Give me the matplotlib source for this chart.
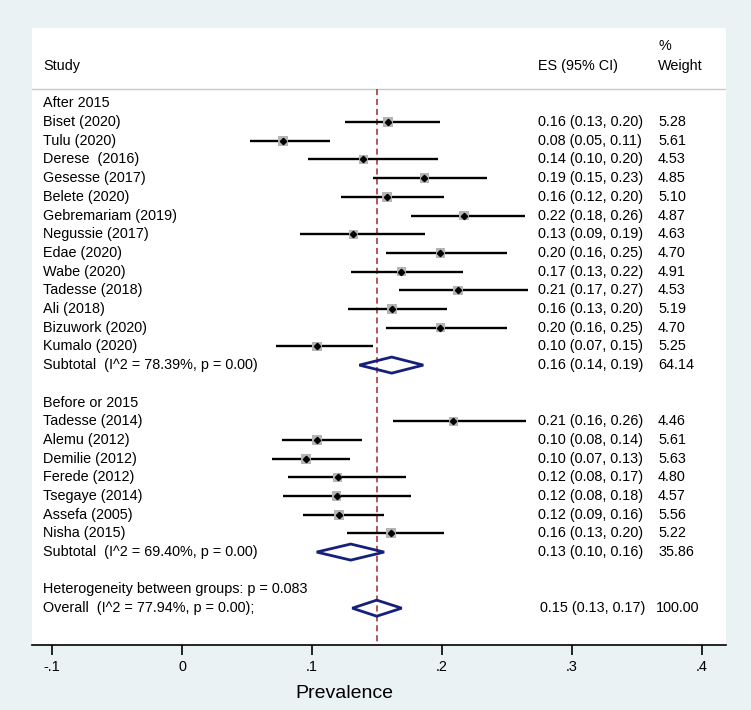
import matplotlib.pyplot as plt
from matplotlib.patches import Polygon

# ---- dados ----
studies_after = ["Biset (2020)", "Tulu (2020)", "Derese  (2016)", "Gesesse (2017)",
                 "Belete (2020)", "Gebremariam (2019)", "Negussie (2017)", "Edae (2020)",
                 "Wabe (2020)", "Tadesse (2018)", "Ali (2018)", "Bizuwork (2020)",
                 "Kumalo (2020)"]
es_after = [0.1587, 0.0774, 0.1395, 0.1864, 0.1577, 0.2169, 0.1318, 0.1987,
            0.1687, 0.2123, 0.1618, 0.1987, 0.1038]
lo_after = [0.1256, 0.0523, 0.0972, 0.1467, 0.1221, 0.1764, 0.0908, 0.1569,
            0.1303, 0.1669, 0.1274, 0.1569, 0.0723]
hi_after = [0.1987, 0.1138, 0.1969, 0.2344, 0.2013, 0.2638, 0.1867, 0.2497,
            0.2159, 0.2659, 0.2036, 0.2497, 0.1467]
w_after = [5.28, 5.61, 4.53, 4.85, 5.10, 4.87, 4.63, 4.70, 4.91, 4.53, 5.19, 4.70, 5.25]

studies_before = ["Tadesse (2014)", "Alemu (2012)", "Demilie (2012)", "Ferede (2012)",
                  "Tsegaye (2014)", "Assefa (2005)", "Nisha (2015)"]
es_before = [0.2087, 0.1038, 0.0954, 0.1197, 0.1190, 0.1205, 0.1608]
lo_before = [0.1626, 0.0772, 0.0692, 0.0818, 0.0779, 0.0928, 0.1267]
hi_before = [0.2644, 0.1382, 0.1295, 0.1721, 0.1764, 0.1554, 0.2015]
w_before = [4.46, 5.61, 5.63, 4.80, 4.57, 5.56, 5.22]

group_names = ["After 2015", "Before or 2015"]
sub_es = [0.1613, 0.1298]
sub_lo = [0.1364, 0.1036]
sub_hi = [0.1856, 0.1555]
sub_w = [64.14, 35.86]
sub_i2 = [78.39, 69.40]
sub_p = [0.00, 0.00]

overall_es, overall_lo, overall_hi = 0.1498, 0.1310, 0.1690
overall_w = 100.00
overall_i2, overall_p = 77.94, 0.00
het_p = 0.083

xticks = [-0.1, 0, 0.1, 0.2, 0.3, 0.4]
xtick_labels = ["-.1", "0", ".1", ".2", ".3", ".4"]

# ---- estilo ----
BG = "#EAF2F3"
NAVY = "#15207A"
RED = "#A0282D"
GRAY = "#B4B4B4"
FS = 10.4
plt.rcParams["font.family"] = ["Liberation Sans", "DejaVu Sans"]

fig = plt.figure(figsize=(7.51, 7.10), dpi=100, facecolor=BG)
ax = fig.add_axes([32 / 751, 65 / 710, 694 / 751, 617 / 710], facecolor="white")
ax.set_xlim(-0.11538, 0.41846)
ax.set_ylim(28.97, -4.03)

X_LAB, X_ES, X_W = -0.1069, 0.2738, 0.3662


def es_text(e, l, h):
    return f"{e:.2f} ({l:.2f}, {h:.2f})"


def diamond(y, e, l, h):
    d = 0.43
    ax.add_patch(Polygon([(l, y), (e, y - d), (h, y), (e, y + d)], closed=True,
                         fill=False, edgecolor=NAVY, lw=2.0, zorder=4))


# cabeçalho
ax.text(X_LAB, -2, "Study", fontsize=FS, va="center")
ax.text(X_ES, -2, "ES (95% CI)", fontsize=FS, va="center")
ax.text(X_W, -2, "Weight", fontsize=FS, va="center")
ax.text(X_W, -3.05, "%", fontsize=FS, va="center")
ax.axhline(-0.765, color="#C8C8C8", lw=1.0, zorder=1)

groups = [
    (studies_after, es_after, lo_after, hi_after, w_after),
    (studies_before, es_before, lo_before, hi_before, w_before),
]

row = 0
for g, (names, es, lo, hi, w) in enumerate(groups):
    ax.text(X_LAB, row, group_names[g], fontsize=FS, va="center")
    row += 1
    ys = list(range(row, row + len(names)))
    ax.hlines(ys, lo, hi, color="black", lw=1.7, zorder=3)
    ax.scatter(es, ys, marker="s", s=[9.5 * v for v in w], color=GRAY,
               linewidths=0, zorder=4)
    ax.plot(es, ys, "D", color="black", markersize=3.2, zorder=5)
    for y, n, e, l, h, v in zip(ys, names, es, lo, hi, w):
        ax.text(X_LAB, y, n, fontsize=FS, va="center")
        ax.text(X_ES, y, es_text(e, l, h), fontsize=FS, va="center")
        ax.text(X_W, y, f"{v:.2f}", fontsize=FS, va="center")
    row += len(names)
    ax.text(X_LAB, row, f"Subtotal  (I^2 = {sub_i2[g]:.2f}%, p = {sub_p[g]:.2f})",
            fontsize=FS, va="center")
    ax.text(X_ES, row, es_text(sub_es[g], sub_lo[g], sub_hi[g]), fontsize=FS, va="center")
    ax.text(X_W, row, f"{sub_w[g]:.2f}", fontsize=FS, va="center")
    diamond(row, sub_es[g], sub_lo[g], sub_hi[g])
    row += 2

ax.text(X_LAB, row, f"Heterogeneity between groups: p = {het_p:.3f}", fontsize=FS, va="center")
row += 1
ax.text(X_LAB, row, f"Overall  (I^2 = {overall_i2:.2f}%, p = {overall_p:.2f});",
        fontsize=FS, va="center")
ax.text(X_ES + 0.0015, row, es_text(overall_es, overall_lo, overall_hi), fontsize=FS, va="center")
ax.text(X_W - 0.0015, row, f"{overall_w:.2f}", fontsize=FS, va="center")
diamond(row, overall_es, overall_lo, overall_hi)

# linha do efeito global
ax.plot([overall_es, overall_es], [-0.765, 28.97], color=RED, lw=1.1,
        dashes=(4, 2.5), zorder=2)

# eixos
for s in ["top", "left", "right"]:
    ax.spines[s].set_visible(False)
ax.spines["bottom"].set_linewidth(1.2)
ax.set_yticks([])
ax.set_xticks(xticks)
ax.set_xticklabels(xtick_labels, fontsize=FS)
ax.tick_params(axis="x", length=7.5, width=1.2, pad=3, direction="out")
ax.set_xlabel("Prevalence", fontsize=14)
ax.xaxis.set_label_coords(312 / 694, -48 / 617)
ax.xaxis.label.set_va("center")

fig.savefig("out.png", dpi=100, facecolor=BG)
